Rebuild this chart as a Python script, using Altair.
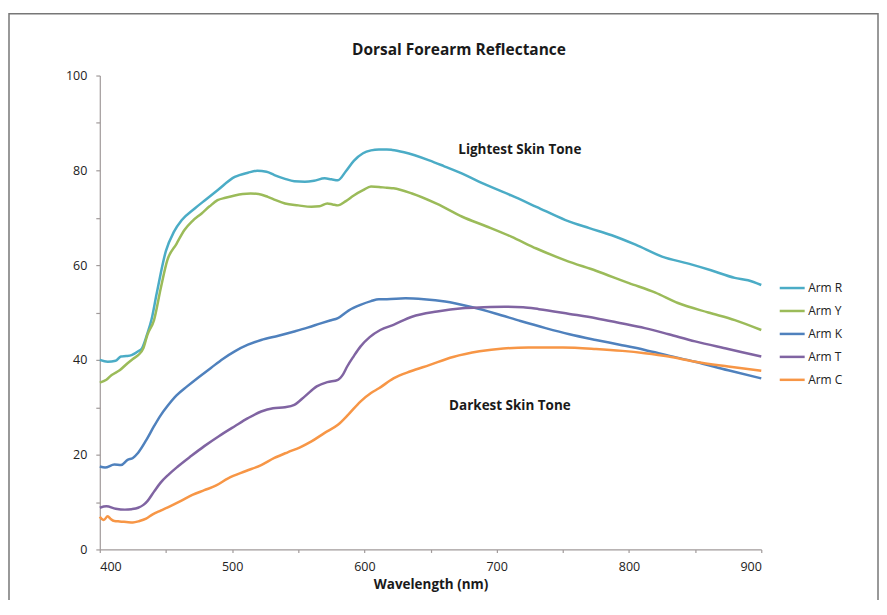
import altair as alt
import pandas as pd

series_names = ["Arm R", "Arm Y", "Arm K", "Arm T", "Arm C"]
series_colors = ["#4bacc6", "#9bbb59", "#4f81bd", "#8064a2", "#f79646"]

r_wl = [400,406,412,416,420,424,429,432,436,439,443,450,456,462,472,480,489,502,512,519,526,532,540,547,555,562,570,575,580,586,592,599,605,611,617,621,630,649,660,674,690,711,730,752,770,787,805,825,845,862,880,890,900]
r_val = [40,39.6,39.8,40.7,40.8,41,41.8,42.5,45.6,48.4,54,63,67,69.5,72,73.8,75.8,78.6,79.5,79.9,79.7,79,78.2,77.7,77.6,77.8,78.3,78.1,77.9,79.8,82,83.6,84.2,84.4,84.4,84.3,83.8,82.1,80.9,79.3,77.2,74.7,72.3,69.5,67.8,66.3,64.3,61.8,60.3,58.9,57.3,56.8,55.8]

y_wl = [400,405,409,415,421,425,429,433,436,441,446,451,458,464,470,477,483,489,495,502,508,514,520,527,533,540,550,560,566,572,576,580,586,592,599,605,611,617,622,636,655,674,692,711,730,752,775,800,820,837,860,880,900]
y_val = [35.2,35.8,36.8,37.8,39.3,40.2,41,42.5,45.3,48.4,55,61,64.5,67.4,69.3,70.9,72.4,73.7,74.2,74.7,75,75.1,75,74.4,73.7,73,72.6,72.3,72.4,73,72.8,72.6,73.5,74.7,75.8,76.6,76.5,76.3,76.2,75.1,72.9,70.2,68.2,66,63.5,61,58.8,56.2,54.2,52,50,48.4,46.3]

k_wl = [400,404,411,416,421,425,429,435,441,446,451,458,466,475,484,493,502,512,522,535,547,557,567,574,580,588,597,605,611,617,631,645,661,680,699,718,737,755,775,793,812,830,850,875,900]
k_val = [17.5,17.3,17.9,17.8,18.9,19.3,20.4,23,26,28.3,30.2,32.5,34.4,36.4,38.3,40.2,41.8,43.2,44.2,45.1,46,46.8,47.7,48.3,48.8,50.4,51.6,52.4,52.8,52.8,53,52.8,52.3,51.2,49.8,48.2,46.7,45.4,44.2,43.2,42.1,40.9,39.6,37.8,36.1]

t_wl = [400,405,412,419,424,429,433,436,441,446,452,459,469,479,490,502,512,522,531,540,547,555,564,572,580,584,587,592,597,604,612,622,636,655,674,690,706,720,732,755,775,793,812,830,850,875,900]
t_val = [8.8,9.1,8.6,8.4,8.5,8.8,9.4,10.2,12.2,14.1,15.8,17.5,19.7,21.8,23.9,26,27.7,29.1,29.8,30,30.5,32.3,34.4,35.3,35.8,37,38.6,40.8,42.8,44.8,46.3,47.4,49.1,50.2,50.9,51.1,51.2,51.1,50.7,49.7,48.8,47.8,46.7,45.4,43.9,42.3,40.7]

c_wl = [400,403,406,408,411,415,420,425,430,435,440,446,453,461,470,479,488,497,510,522,532,542,551,560,570,580,588,597,605,611,622,635,649,667,687,705,724,750,775,795,812,830,850,875,900]
c_val = [6.9,6.2,7,6.5,6,5.9,5.8,5.7,6,6.5,7.4,8.2,9.1,10.2,11.5,12.5,13.5,15,16.5,17.8,19.3,20.5,21.5,22.8,24.6,26.3,28.5,31.2,33,34,36.1,37.6,38.9,40.6,41.8,42.4,42.6,42.6,42.3,41.9,41.4,40.7,39.6,38.6,37.7]

x_ticks = [400, 450, 500, 550, 600, 650, 700, 750, 800, 850, 900]
y_ticks = [0, 10, 20, 30, 40, 50, 60, 70, 80, 90, 100]

chart_title = "Dorsal Forearm Reflectance"
note_text = ["Lightest Skin Tone", "Darkest Skin Tone"]
note_wl = [717.5, 710]
note_val = [84.2, 30.3]

rows = []
for name, wl, val in zip(series_names, [r_wl, y_wl, k_wl, t_wl, c_wl],
                         [r_val, y_val, k_val, t_val, c_val]):
    for w, v in zip(wl, val):
        rows.append({"series": name, "wl": w, "val": v})
df = pd.DataFrame(rows)
notes = pd.DataFrame({"text": note_text, "wl": note_wl, "val": note_val})

FONT = "Open Sans"
AX = "#a09a9a"

xscale = alt.Scale(domain=[400, 900], nice=False)
yscale = alt.Scale(domain=[0, 100], nice=False)

lines = alt.Chart(df).mark_line(strokeWidth=2.5, interpolate="monotone").encode(
    x=alt.X("wl:Q", scale=xscale,
            axis=alt.Axis(title="Wavelength (nm)", values=x_ticks,
                          labelExpr="datum.value % 100 == 0 ? datum.label : ''",
                          tickSize=3, labelPadding=8, titlePadding=5)),
    y=alt.Y("val:Q", scale=yscale,
            axis=alt.Axis(title=None, values=y_ticks,
                          labelExpr="datum.value % 20 == 0 ? datum.label : ''",
                          tickSize=4, labelPadding=9)),
    color=alt.Color("series:N",
                    scale=alt.Scale(domain=series_names, range=series_colors),
                    legend=alt.Legend(title=None, orient="none", legendX=680, legendY=199,
                                      symbolType="stroke", symbolSize=625,
                                      symbolStrokeWidth=2.5, labelFontSize=12,
                                      labelFont=FONT, labelColor="#222222",
                                      rowPadding=3, labelOffset=2)),
    detail="series:N",
)

text = alt.Chart(notes).mark_text(font=FONT, fontSize=13.5, fontWeight="bold",
                                  color="#1a1a1a").encode(
    x=alt.X("wl:Q", scale=xscale),
    y=alt.Y("val:Q", scale=yscale),
    text="text:N",
)

title = alt.Chart(alt.Data(values=[{"t": chart_title}])).mark_text(
    font=FONT, fontSize=15.5, fontWeight="bold", color="#1a1a1a").encode(
    x=alt.value(360), y=alt.value(-26), text="t:N")

frame = alt.Chart(alt.Data(values=[{}])).mark_rect(
    fillOpacity=0, stroke="#777777", strokeWidth=1.5).encode(
    x=alt.value(-91), x2=alt.value(780), y=alt.value(-62), y2=alt.value(620))

chart = alt.layer(frame, lines, text, title).properties(
    width=663, height=475,
    autosize=alt.AutoSizeParams(type="none"),
    padding={"left": 92, "top": 67, "right": 118, "bottom": 50},
    background="white",
).configure_view(stroke=None).configure_axis(
    grid=False, domainColor=AX, tickColor=AX, labelFont=FONT, labelFontSize=12.5,
    labelColor="#222222", titleFont=FONT, titleFontSize=13.5, titleFontWeight="bold",
    titleColor="#1a1a1a", domainWidth=1.2, tickWidth=1.2,
).configure_legend(padding=0)

chart.save("out.html", embed_options={"renderer": "svg", "actions": False})
